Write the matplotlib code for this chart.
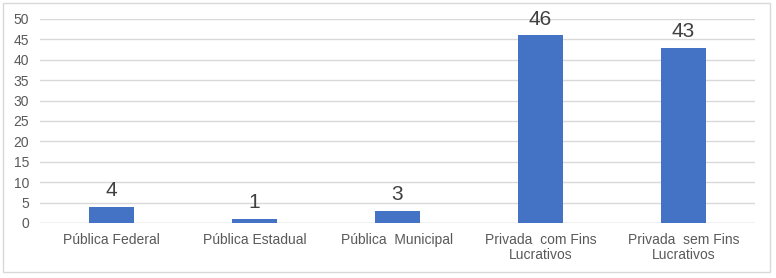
import matplotlib
matplotlib.use("Agg")
import matplotlib.pyplot as plt
from matplotlib.patches import Rectangle

categories = ["Pública Federal", "Pública Estadual", "Pública  Municipal",
              "Privada  com Fins\nLucrativos", "Privada  sem Fins\nLucrativos"]
values = [4, 1, 3, 46, 43]
yticks = [0, 5, 10, 15, 20, 25, 30, 35, 40, 45, 50]

plt.rcParams['font.family'] = ['Liberation Sans', 'DejaVu Sans']

fig = plt.figure(figsize=(7.76, 2.78), dpi=100)
fig.patches.append(Rectangle((3/776, 6/278), 767/776, 269/278, transform=fig.transFigure,
                             fill=False, edgecolor='#d9d9d9', linewidth=1))
ax = fig.add_axes([40/776, 1 - 223/278, 715/776, 204/278])
x = list(range(len(categories)))
bars = ax.bar(x, values, width=0.31, color='#4472C4', zorder=3)
for xi, v in zip(x, values):
    ax.text(xi, v + 1.6, str(v), ha='center', va='bottom', fontsize=15, color='#404040')
ax.set_xlim(-0.5, 4.5)
ax.set_ylim(0, 50)
ax.set_yticks(yticks)
ax.set_xticks(x)
ax.set_xticklabels(categories, fontsize=10, color='#595959', linespacing=1.15)
ax.tick_params(axis='y', labelsize=10, labelcolor='#595959', length=0, pad=8)
ax.tick_params(axis='x', length=0, pad=7)
ax.grid(axis='y', color='#d9d9d9', linewidth=1, zorder=0)
for s in ax.spines.values():
    s.set_visible(False)
ax.axhline(0, color='#d9d9d9', linewidth=1, zorder=2)
fig.savefig("out.png", dpi=100)
